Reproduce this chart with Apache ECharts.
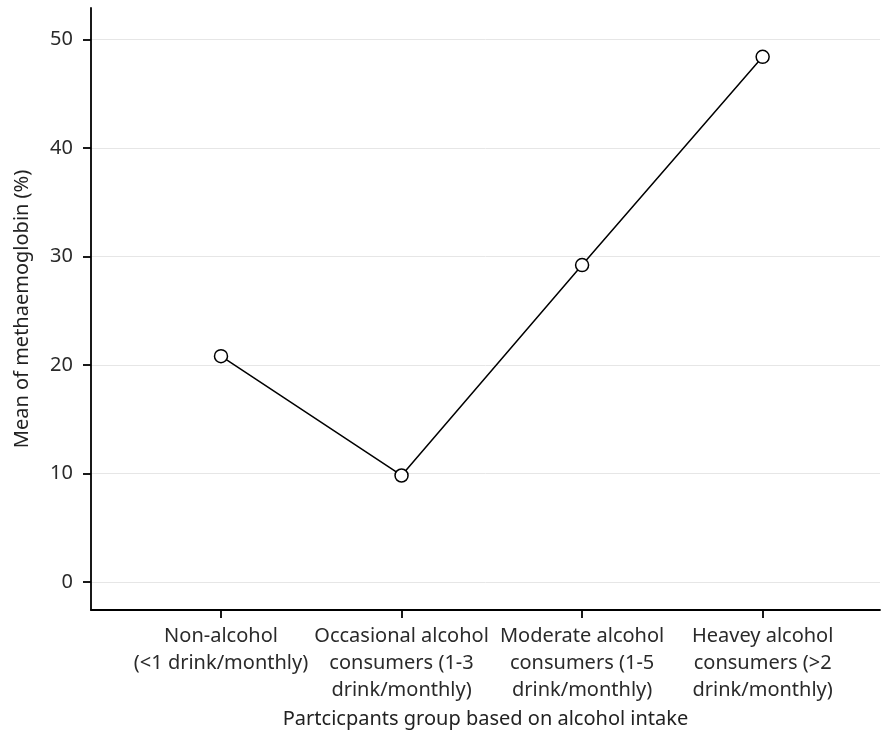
<!DOCTYPE html>
<html>
<head>
<meta charset="utf-8">
<script src="https://cdn.jsdelivr.net/npm/echarts@6/dist/echarts.min.js"></script>
<style>html,body{margin:0;padding:0;background:#fff}#c{width:881px;height:744px}</style>
</head>
<body>
<div id="c"></div>
<script>
const categories = [
  "Non-alcohol\n(<1 drink/monthly)",
  "Occasional alcohol\nconsumers (1-3\ndrink/monthly)",
  "Moderate alcohol\nconsumers (1-5\ndrink/monthly)",
  "Heavey alcohol\nconsumers (>2\ndrink/monthly)"
];
const meanMetHb = [20.8, 9.8, 29.2, 48.4];
const yTicks = [0, 10, 20, 30, 40, 50];
const xTicks = categories.map((c, i) => i);

const font = "'Noto Sans', 'Open Sans', sans-serif";
const chart = echarts.init(document.getElementById('c'));
chart.setOption({
  animation: false,
  grid: { left: 91, right: 1, top: 8, bottom: 134, containLabel: false },
  xAxis: {
    type: 'value',
    min: -0.72,
    max: 3.65,
    name: 'Partcicpants group based on alcohol intake',
    nameLocation: 'middle',
    nameGap: 92,
    nameTextStyle: { fontFamily: font, fontSize: 20, color: '#222' },
    axisLine: { show: true, onZero: false, lineStyle: { color: '#000', width: 1.8 } },
    axisTick: { show: true, customValues: xTicks, length: 8, lineStyle: { color: '#000', width: 1.8 } },
    axisLabel: {
      customValues: xTicks,
      formatter: v => categories[Math.round(v)],
      fontFamily: font, fontSize: 20, lineHeight: 27, color: '#2a2a2a', margin: 13
    },
    splitLine: { show: false }
  },
  yAxis: {
    type: 'value',
    min: -2.6,
    max: 52.9,
    name: 'Mean of methaemoglobin (%)',
    nameLocation: 'middle',
    nameGap: 59,
    nameTextStyle: { fontFamily: font, fontSize: 20, color: '#222' },
    axisLine: { show: true, onZero: false, lineStyle: { color: '#000', width: 1.8 } },
    axisTick: { show: true, customValues: yTicks, length: 8, lineStyle: { color: '#000', width: 1.8 } },
    axisLabel: { customValues: yTicks, fontFamily: font, fontSize: 20, color: '#2a2a2a', margin: 18 },
    splitLine: { show: true, lineStyle: { color: '#e6e6e6', width: 1 } }
  },
  series: [{
    type: 'line',
    data: meanMetHb.map((v, i) => [i, v]),
    symbol: 'circle',
    symbolSize: 13,
    lineStyle: { color: '#000', width: 1.5 },
    itemStyle: { color: '#fff', borderColor: '#000', borderWidth: 1.5 }
  }]
});
</script>
</body>
</html>
